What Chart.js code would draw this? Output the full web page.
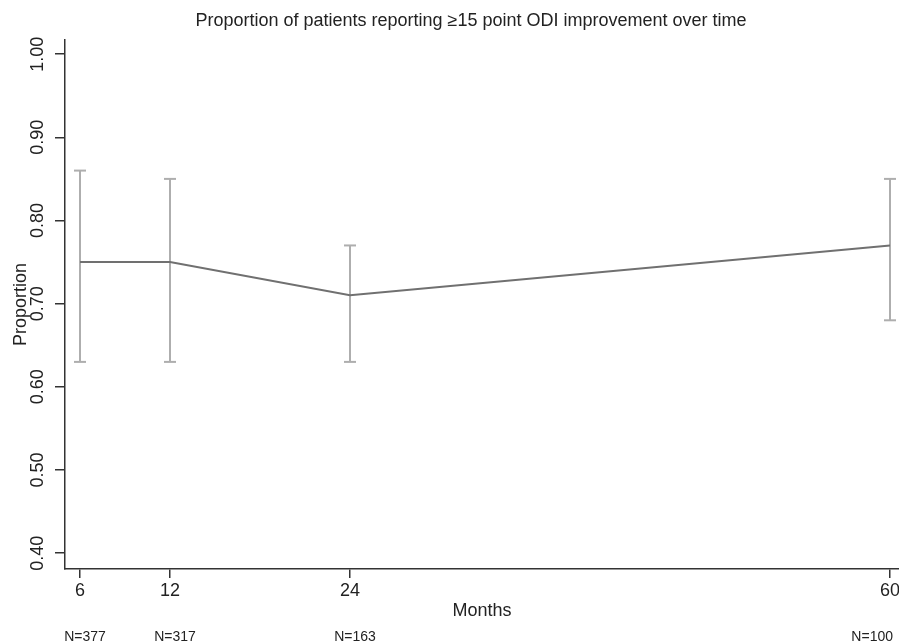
<!DOCTYPE html>
<html>
<head>
<meta charset="utf-8">
<script src="https://cdn.jsdelivr.net/npm/chart.js@4.4.1/dist/chart.umd.min.js"></script>
<style>
  html, body { margin: 0; padding: 0; background: #fff; }
  #wrap { width: 899px; height: 644px; position: relative; }
</style>
</head>
<body>
<div id="wrap"><canvas id="odiChart"></canvas></div>
<script>
// data
const months = [6, 12, 24, 60];
const proportion = [0.75, 0.75, 0.71, 0.77];
const lowerCI = [0.63, 0.63, 0.63, 0.68];
const upperCI = [0.86, 0.85, 0.77, 0.85];
const nLabels = ['N=377', 'N=317', 'N=163', 'N=100'];
const xTicks = [6, 12, 24, 60];
const yTicks = [0.4, 0.5, 0.6, 0.7, 0.8, 0.9, 1.0];

const FONT = '"Liberation Sans", Arial, Helvetica, sans-serif';
const lineGrey = '#707070';
const barGrey = '#aeaeae';
const axisCol = '#333333';

// one small dataset per error bar, caps are 'line' point style
const errorSets = months.map((m, i) => ({
  type: 'line',
  data: [{x: m, y: lowerCI[i]}, {x: m, y: upperCI[i]}],
  borderColor: barGrey,
  borderWidth: 2,
  pointStyle: 'line',
  pointRadius: 6,
  pointBorderWidth: 2,
  pointBorderColor: barGrey,
  pointHoverRadius: 6,
  clip: false,
  order: 2
}));

const extras = {
  id: 'extras',
  afterDraw(chart) {
    const c = chart.ctx;
    const area = chart.chartArea;
    const xs = chart.scales.x;
    const ys = chart.scales.y;
    c.save();
    c.fillStyle = '#222';

    // title
    c.font = '18px ' + FONT;
    c.textAlign = 'center';
    c.textBaseline = 'middle';
    c.fillText('Proportion of patients reporting \u226515 point ODI improvement over time',
      (area.left + area.right) / 2 - 11, 21);

    // rotated y tick labels
    ys.ticks.forEach(t => {
      const py = ys.getPixelForValue(t.value);
      c.save();
      c.translate(38, py);
      c.rotate(-Math.PI / 2);
      c.fillText(t.value.toFixed(2), 0, 0);
      c.restore();
    });

    // sample sizes under the axis
    c.font = '14px ' + FONT;
    months.forEach((m, i) => {
      let px = xs.getPixelForValue(m);
      const w = c.measureText(nLabels[i]).width;
      px = Math.min(px + 5, chart.width - 6 - w / 2);
      c.fillText(nLabels[i], px, 637);
    });
    c.restore();
  }
};

new Chart(document.getElementById('odiChart'), {
  type: 'line',
  data: {
    datasets: [{
      label: 'Proportion',
      data: months.map((m, i) => ({x: m, y: proportion[i]})),
      borderColor: lineGrey,
      borderWidth: 2,
      pointRadius: 0,
      tension: 0,
      clip: false,
      order: 1
    }].concat(errorSets)
  },
  options: {
    responsive: true,
    maintainAspectRatio: false,
    animation: false,
    events: [],
    layout: { autoPadding: false, padding: { top: 40, right: 0, bottom: 22, left: 0 } },
    plugins: {
      legend: { display: false },
      tooltip: { enabled: false },
      title: { display: false }
    },
    scales: {
      x: {
        type: 'linear',
        min: 5,
        max: 60.6,
        afterBuildTicks: s => { s.ticks = xTicks.map(v => ({value: v})); },
        afterFit: s => { s.height = 53; s.paddingLeft = 0; s.paddingRight = 0; },
        ticks: {
          color: '#222',
          font: { family: FONT, size: 18 },
          padding: 2,
          maxRotation: 0,
          autoSkip: false
        },
        grid: { display: true, drawOnChartArea: false, drawTicks: true, tickLength: 9, color: axisCol, lineWidth: 1.5 },
        border: { display: true, color: axisCol, width: 1.5 },
        title: {
          display: true,
          text: 'Months',
          color: '#222',
          font: { family: FONT, size: 18 },
          padding: { top: 0, bottom: 0 }
        }
      },
      y: {
        type: 'linear',
        min: 0.381,
        max: 1.017,
        afterBuildTicks: s => { s.ticks = yTicks.map(v => ({value: v})); },
        afterFit: s => { s.width = 65; s.paddingTop = 0; s.paddingBottom = 0; },
        ticks: { display: false },
        grid: { display: true, drawOnChartArea: false, drawTicks: true, tickLength: 10, color: axisCol, lineWidth: 1.5 },
        border: { display: true, color: axisCol, width: 1.5 },
        title: {
          display: true,
          text: 'Proportion',
          color: '#222',
          font: { family: FONT, size: 18 },
          padding: { top: 10, bottom: 0 }
        }
      }
    }
  },
  plugins: [extras]
});
</script>
</body>
</html>
